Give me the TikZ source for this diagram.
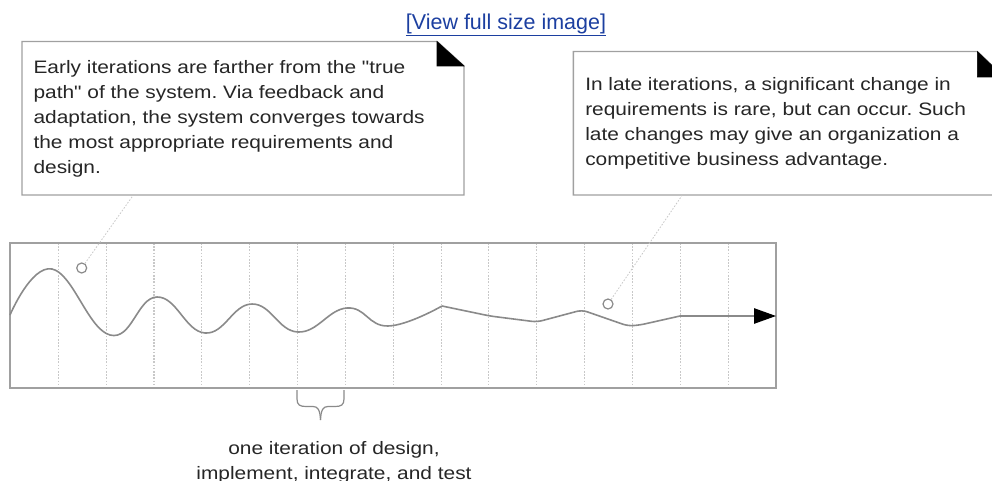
\documentclass[tikz,border=0pt]{standalone}
\usepackage{fontspec}
\setmainfont{Liberation Sans}
\newfontfamily\notefont[FakeStretch=1.16]{Liberation Sans}
\usetikzlibrary{arrows.meta}
\definecolor{linkblue}{HTML}{1C3FA0}
\definecolor{boxgray}{HTML}{A0A0A0}
\definecolor{gridgray}{HTML}{C8C8C8}
\definecolor{curvegray}{HTML}{8A8A8A}
\definecolor{txtgray}{HTML}{262626}
\newcommand\topstrut{\rule{0pt}{14pt}}
\frenchspacing
\begin{document}
\begin{tikzpicture}[x=0.75pt,y=-0.75pt,
  notebox/.style={draw=boxgray, line width=1.1pt, fill=white, line join=miter},
  corner/.style={fill=black, draw=black, line width=0.4pt},
  notetext/.style={anchor=north west, inner sep=0pt, align=left,
    font=\notefont\fontsize{13.5}{18.75}\selectfont, text=txtgray},
  captext/.style={anchor=north, inner sep=0pt, align=center,
    font=\notefont\fontsize{13.5}{18.75}\selectfont, text=txtgray},
  gridline/.style={draw=gridgray, line width=0.8pt, dash pattern=on 1.2pt off 1.2pt},
  frame/.style={draw=boxgray, line width=1.4pt},
  wave/.style={draw=curvegray, line width=1.2pt},
  leader/.style={draw=gridgray, line width=0.6pt, dash pattern=on 1.2pt off 1.2pt},
  marker/.style={circle, draw=curvegray, line width=0.9pt, fill=white, minimum size=7.5pt, inner sep=0pt},
  bracepath/.style={draw=curvegray, line width=0.9pt},
]
\useasboundingbox (0,0) rectangle (992,481);
\clip (0,0) rectangle (992,481);

% link
\node[anchor=base, inner sep=0pt, text=linkblue, font=\fontsize{16.1}{18}\selectfont] (link) at (506,29.3) {\underline{[View full size image]}};

% note 1
\draw[notebox] (22,41.5) -- (437,41.5) -- (464,66) -- (464,195) -- (22,195) -- cycle;
\draw[corner] (437,41.5) -- (437,66) -- (464,66) -- cycle;
\node[notetext] (note1) at (33.3,54.7) {\topstrut Early iterations are farther from the "true\\path" of the system. Via feedback and\\adaptation, the system converges towards\\the most appropriate requirements and\\design.};

% note 2
\draw[notebox] (573.3,51.5) -- (977.3,51.5) -- (1004,77) -- (1004,195) -- (573.3,195) -- cycle;
\draw[corner] (977.3,51.5) -- (977.3,77) -- (1004,77) -- cycle;
\node[notetext] (note2) at (585,72) {\topstrut In late iterations, a significant change in\\requirements is rare, but can occur. Such\\late changes may give an organization a\\competitive business advantage.};

% grid
\foreach \i in {0,...,14} {
  \draw[gridline] (58.3+47.85*\i,243) -- (58.3+47.85*\i,388);
}
\draw[frame] (10,243) rectangle (776,388);

% wave
\draw[wave] plot[smooth, tension=0.75] coordinates {
  (10,315) (52,269) (110,335) (157,297) (205,333) (252,304) (298,332)
  (347,308) (388,326) (442,306) };
\draw[wave, rounded corners=4pt] (442,306) -- (490,316) -- (537,322) -- (582,310) -- (628,326) -- (640,325) -- (680,316);
\coordinate (wend) at (680,316);
\coordinate (tip) at (776,316);
\draw[wave, -{Triangle[length=16.5pt,width=11.5pt,color=black]}] (wend) -- (tip);

% markers and leaders
\node[marker] (c1) at (81.7,268) {};
\node[marker] (c2) at (608,304) {};
\coordinate (lead1) at (133,195.5);
\coordinate (lead2) at (682,195.5);
\draw[leader] (c1) -- (lead1);
\draw[leader] (c2) -- (lead2);

% brace
\draw[bracepath] (297,390) -- (297,399) .. controls (297,405) and (300,406.5) .. (306,406.5)
  -- (313,406.5) .. controls (318,406.5) and (320,410) .. (320.5,420);
\draw[bracepath] (344,390) -- (344,399) .. controls (344,405) and (341,406.5) .. (335,406.5)
  -- (328,406.5) .. controls (323,406.5) and (321,410) .. (320.5,420);

\node[captext] (cap) at (334,435.3) {\topstrut one iteration of design,\\implement, integrate, and test};
\end{tikzpicture}
\end{document}
